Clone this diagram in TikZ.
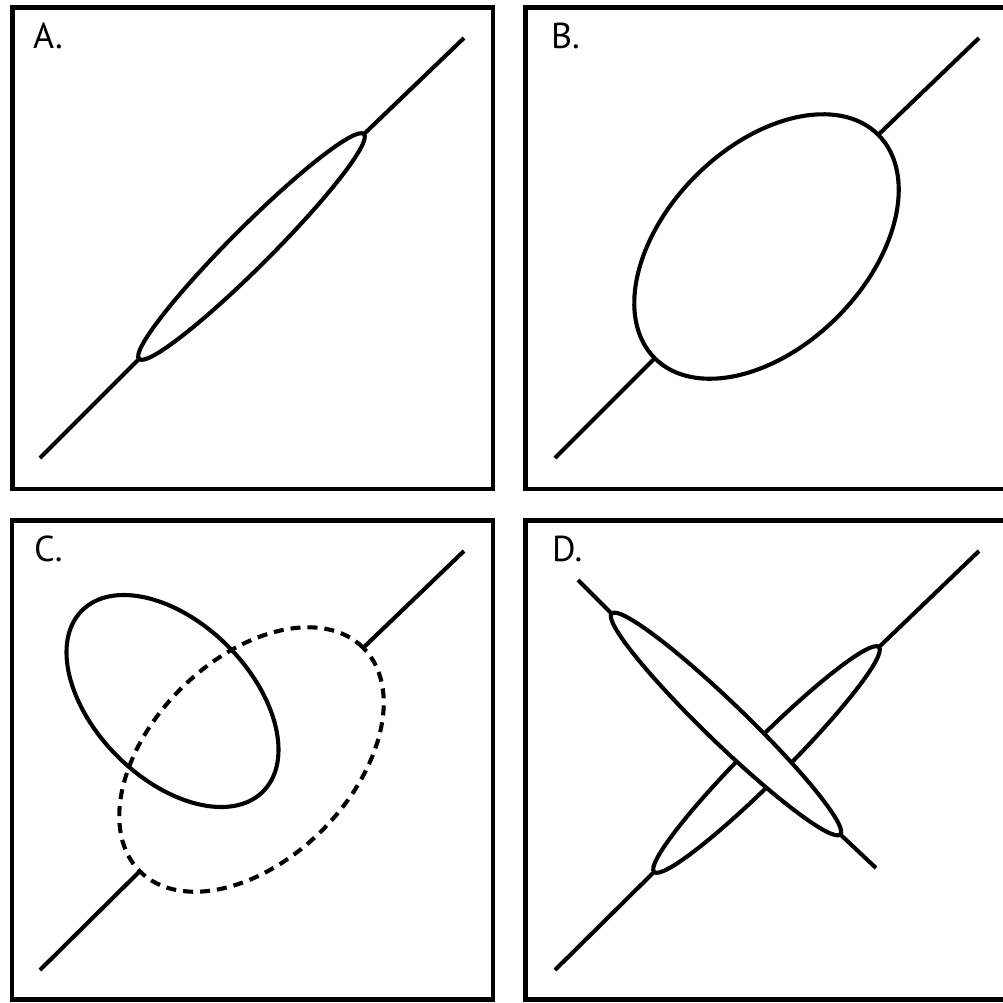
\documentclass[tikz,border=0pt]{standalone}
\usepackage{fontspec}
\newfontfamily\labfont{PT Sans}
\begin{document}
\begin{tikzpicture}[x=1pt,y=-1pt,
  panel/.style={line width=4.8pt},
  axisline/.style={line width=4.1pt},
  ell/.style={line width=4.1pt},
  dashell/.style={line width=4.1pt, dash pattern=on 10pt off 7pt},
  lab/.style={anchor=base west, inner sep=0pt, font=\labfont\fontsize{36}{40}\selectfont}]
\useasboundingbox (0,0) rectangle (1003,1002);
\clip (0,0) rectangle (1003,1002);
% panels
\draw[panel] (12.5,7.5) rectangle (493,489);
\draw[panel] (525.5,7.5) rectangle (1008,489);
\draw[panel] (12,520.5) rectangle (493,999.7);
\draw[panel] (525.5,520.5) rectangle (1008,999.7);
% labels
\node[lab] (la) at (33,48) {A.};
\node[lab] (lb) at (551,48) {B.};
\node[lab] (lc) at (34,561) {C.};
\node[lab] (ld) at (552,561) {D.};
% ---- A
\coordinate (a0) at (40,458);
\coordinate (a1) at (139.1,358.9);
\coordinate (a2) at (363.9,134.1);
\coordinate (a3) at (464,38);
\draw[axisline] (a0) -- (a1);
\draw[axisline] (a2) -- (a3);
\draw[ell, shift={(251.5,246.5)}, rotate=45] (0,0) ellipse [x radius=159pt, y radius=20pt];
% ---- B
\coordinate (b0) at (555,458);
\coordinate (b1) at (654.8,358.2);
\coordinate (b2) at (878.2,134.8);
\coordinate (b3) at (979,38);
\draw[axisline] (b0) -- (b1);
\draw[axisline] (b2) -- (b3);
\draw[ell, shift={(766.5,246.5)}, rotate=45] (0,0) ellipse [x radius=158pt, y radius=100pt];
% ---- C
\coordinate (c0) at (40,970);
\coordinate (c1) at (139.8,871.2);
\coordinate (c2) at (363.2,647.8);
\coordinate (c3) at (464,551);
\draw[axisline] (c0) -- (c1);
\draw[axisline] (c2) -- (c3);
\draw[dashell, shift={(251.5,759.5)}, rotate=45] (0,0) ellipse [x radius=158pt, y radius=100pt];
\draw[ell, shift={(172.5,701)}, rotate=-45] (0,0) ellipse [x radius=128pt, y radius=78pt];
% ---- D
\coordinate (d0) at (555,970);
\coordinate (d1) at (654.1,871.9);
\coordinate (d2) at (878.9,647.1);
\coordinate (d3) at (979,551);
\draw[axisline] (d0) -- (d1);
\draw[axisline] (d2) -- (d3);
\draw[ell, shift={(766.5,759.5)}, rotate=45] (0,0) ellipse [x radius=159pt, y radius=20pt];
\coordinate (e0) at (578,580);
\coordinate (e1) at (611.6,613.5);
\coordinate (e2) at (840.4,834.5);
\coordinate (e3) at (876,868);
\draw[axisline] (e0) -- (e1);
\draw[axisline] (e2) -- (e3);
\draw[ell, fill=white, shift={(726,724)}, rotate=-44] (0,0) ellipse [x radius=159pt, y radius=20pt];
\end{tikzpicture}
\end{document}
